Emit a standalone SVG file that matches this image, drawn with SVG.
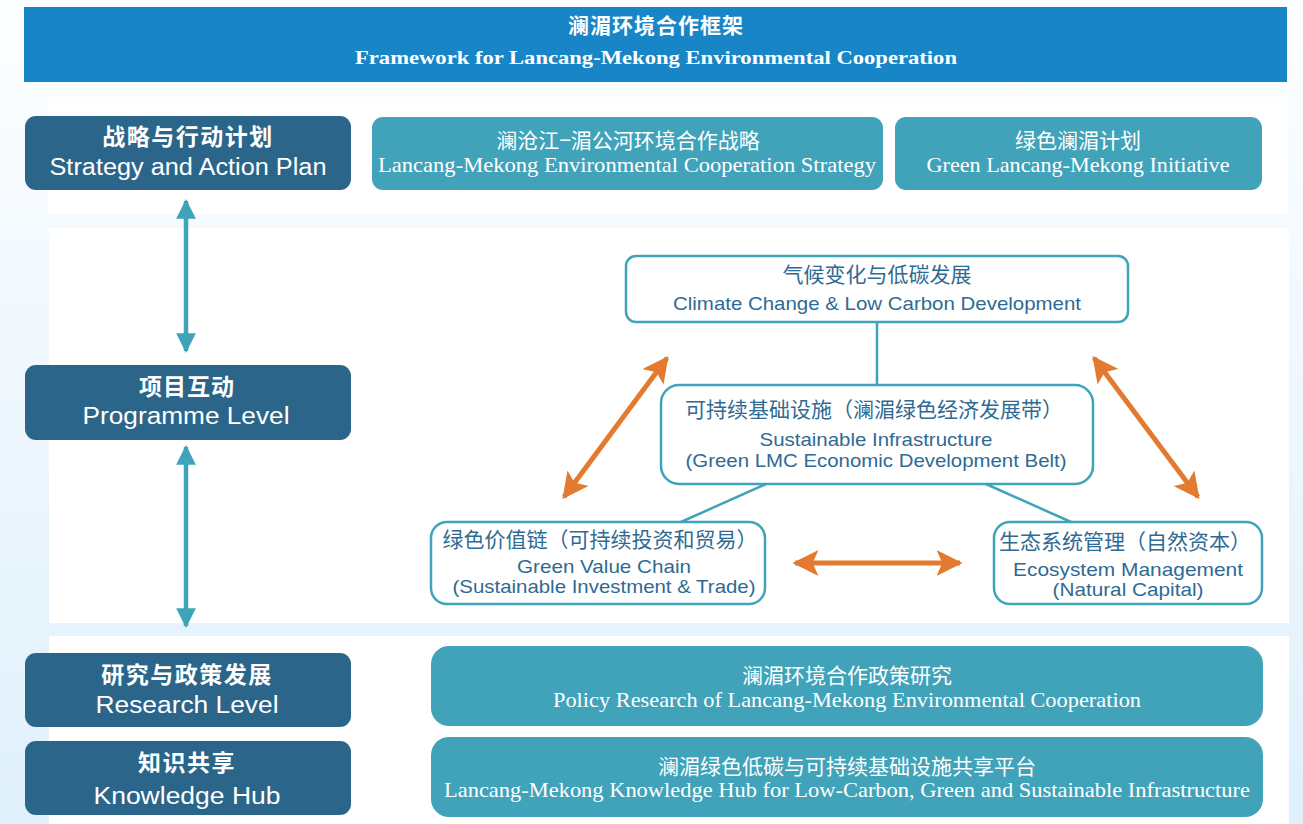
<svg xmlns="http://www.w3.org/2000/svg" width="1303" height="824" viewBox="0 0 1303 824">
<defs>
<linearGradient id="bg" x1="0" y1="0" x2="0" y2="1">
<stop offset="0" stop-color="#FDFEFF"/>
<stop offset="1" stop-color="#DFF0FB"/>
</linearGradient>
<marker id="tealHead" viewBox="0 0 10 10" refX="9" refY="5" markerWidth="4.4" markerHeight="4.4" markerUnits="strokeWidth" orient="auto-start-reverse">
<path d="M0,0 L10,5 L0,10 z" fill="#3FA3BA"/>
</marker>
<marker id="orHead" viewBox="0 0 10 10" refX="9" refY="5" markerWidth="5.2" markerHeight="5.2" markerUnits="strokeWidth" orient="auto-start-reverse">
<path d="M0,0 L10,5 L0,10 L2.2,5 z" fill="#E37A2F"/>
</marker>
</defs>
<style>
.lvl{fill:#2B6589}
.tb{fill:#40A3BA}
.wb{fill:#FFFFFF;stroke:#3FA3BA;stroke-width:2.5}
.cjkb{font-family:"Noto Sans CJK SC","Noto Sans",sans-serif;font-weight:bold;fill:#FFFFFF;text-anchor:middle}
.cjkw{font-family:"Noto Sans CJK SC","Noto Sans",sans-serif;font-size:21px;fill:#FFFFFF;text-anchor:middle}
.cjkd{font-family:"Noto Sans CJK SC","Noto Sans",sans-serif;font-size:21px;fill:#2F6A93;text-anchor:middle}
.ensw{font-family:"Liberation Sans",Arial,sans-serif;font-size:23px;fill:#FFFFFF;text-anchor:middle}
.enserif{font-family:"Liberation Serif","Times New Roman",serif;font-size:21px;fill:#FFFFFF;text-anchor:middle}
.ensd{font-family:"Liberation Sans",Arial,sans-serif;font-size:19px;fill:#2F6A93;text-anchor:middle}
.conT{stroke:#3FA3BA;stroke-width:4.5;fill:none}
.conO{stroke:#E37A2F;stroke-width:5;fill:none}
.line{stroke:#3FA3BA;stroke-width:2.5;fill:none}
</style>
<rect x="0" y="0" width="1303" height="824" fill="url(#bg)"/>
<rect x="48" y="97" width="1240" height="117" fill="#FFFFFF"/>
<rect x="49" y="228" width="1240" height="395" fill="#FFFFFF"/>
<rect x="49" y="636" width="1240" height="188" fill="#FFFFFF"/>

<g id="header">
<rect x="24" y="7" width="1263" height="75" fill="#1886C6"/>
<text x="656" y="33" class="cjkb" font-size="21" letter-spacing="1">澜湄环境合作框架</text>
<text x="656" y="64" font-family="Liberation Serif,'Times New Roman',serif" font-weight="bold" font-size="19" fill="#FFFFFF" text-anchor="middle" textLength="602" lengthAdjust="spacingAndGlyphs">Framework for Lancang-Mekong Environmental Cooperation</text>
</g>

<g id="strategy-level">
<rect x="25" y="116" width="326" height="74" rx="11" class="lvl"/>
<text x="188" y="145" class="cjkb" font-size="23" letter-spacing="1.5">战略与行动计划</text>
<text x="188" y="175" class="ensw" textLength="277" lengthAdjust="spacingAndGlyphs">Strategy and Action Plan</text>
</g>
<g id="programme-level">
<rect x="25" y="365" width="326" height="75" rx="11" class="lvl"/>
<text x="187" y="395" class="cjkb" font-size="23" letter-spacing="1">项目互动</text>
<text x="186" y="424" class="ensw" textLength="207" lengthAdjust="spacingAndGlyphs">Programme Level</text>
</g>
<g id="research-level">
<rect x="25" y="653" width="326" height="74" rx="11" class="lvl"/>
<text x="187" y="683" class="cjkb" font-size="23" letter-spacing="1.5">研究与政策发展</text>
<text x="187" y="713" class="ensw" textLength="183" lengthAdjust="spacingAndGlyphs">Research Level</text>
</g>
<g id="knowledge-hub">
<rect x="25" y="741" width="326" height="74" rx="11" class="lvl"/>
<text x="187" y="771" class="cjkb" font-size="23" letter-spacing="1.5">知识共享</text>
<text x="187" y="804" class="ensw" textLength="187" lengthAdjust="spacingAndGlyphs">Knowledge Hub</text>
</g>

<g id="strategy-box">
<rect x="372" y="117" width="511" height="73" rx="11" class="tb"/>
<text x="628" y="148" class="cjkw">澜沧江−湄公河环境合作战略</text>
<text x="627" y="172" class="enserif" textLength="498" lengthAdjust="spacingAndGlyphs">Lancang-Mekong Environmental Cooperation Strategy</text>
</g>
<g id="green-initiative">
<rect x="895" y="117" width="367" height="73" rx="11" class="tb"/>
<text x="1078" y="148" class="cjkw">绿色澜湄计划</text>
<text x="1078" y="172" class="enserif" textLength="303" lengthAdjust="spacingAndGlyphs">Green Lancang-Mekong Initiative</text>
</g>

<g id="climate">
<rect x="626" y="256" width="502" height="66" rx="10" class="wb"/>
<text x="877" y="282" class="cjkd">气候变化与低碳发展</text>
<text x="877" y="310" class="ensd" textLength="408" lengthAdjust="spacingAndGlyphs">Climate Change &amp; Low Carbon Development</text>
</g>
<g id="infrastructure">
<rect x="661" y="385" width="432" height="99" rx="18" class="wb"/>
<text x="874" y="417" class="cjkd">可持续基础设施（澜湄绿色经济发展带）</text>
<text x="876" y="446" class="ensd" textLength="233" lengthAdjust="spacingAndGlyphs">Sustainable Infrastructure</text>
<text x="876" y="467" class="ensd" textLength="381" lengthAdjust="spacingAndGlyphs">(Green LMC Economic Development Belt)</text>
</g>
<g id="value-chain">
<rect x="431" y="522" width="334" height="82" rx="16" class="wb"/>
<text x="600" y="547" class="cjkd">绿色价值链（可持续投资和贸易）</text>
<text x="604" y="573" class="ensd" textLength="174" lengthAdjust="spacingAndGlyphs">Green Value Chain</text>
<text x="604" y="593" class="ensd" textLength="303" lengthAdjust="spacingAndGlyphs">(Sustainable Investment &amp; Trade)</text>
</g>
<g id="ecosystem">
<rect x="994" y="522" width="268" height="82" rx="16" class="wb"/>
<text x="1125" y="549" class="cjkd">生态系统管理（自然资本）</text>
<text x="1128" y="576" class="ensd" textLength="230" lengthAdjust="spacingAndGlyphs">Ecosystem Management</text>
<text x="1128" y="596" class="ensd" textLength="151" lengthAdjust="spacingAndGlyphs">(Natural Capital)</text>
</g>

<g id="policy-research">
<rect x="431" y="646" width="832" height="80" rx="18" class="tb"/>
<text x="847" y="683" class="cjkw">澜湄环境合作政策研究</text>
<text x="847" y="707" class="enserif" textLength="588" lengthAdjust="spacingAndGlyphs">Policy Research of Lancang-Mekong Environmental Cooperation</text>
</g>
<g id="knowledge-platform">
<rect x="431" y="737" width="832" height="80" rx="18" class="tb"/>
<text x="847" y="774" class="cjkw">澜湄绿色低碳与可持续基础设施共享平台</text>
<text x="847" y="797" class="enserif" textLength="806" lengthAdjust="spacingAndGlyphs">Lancang-Mekong Knowledge Hub for Low-Carbon, Green and Sustainable Infrastructure</text>
</g>

<g id="connectors">
<line x1="186" y1="201" x2="186" y2="351" class="conT" marker-start="url(#tealHead)" marker-end="url(#tealHead)"/>
<line x1="186" y1="447" x2="186" y2="626" class="conT" marker-start="url(#tealHead)" marker-end="url(#tealHead)"/>
<line x1="877" y1="322" x2="877" y2="385" class="line"/>
<line x1="766" y1="484" x2="681" y2="522" class="line"/>
<line x1="986" y1="484" x2="1071" y2="522" class="line"/>
<line x1="667" y1="358" x2="564" y2="497" class="conO" marker-start="url(#orHead)" marker-end="url(#orHead)"/>
<line x1="1094" y1="358" x2="1198" y2="497" class="conO" marker-start="url(#orHead)" marker-end="url(#orHead)"/>
<line x1="795" y1="563" x2="960" y2="563" class="conO" marker-start="url(#orHead)" marker-end="url(#orHead)"/>
</g>
</svg>
